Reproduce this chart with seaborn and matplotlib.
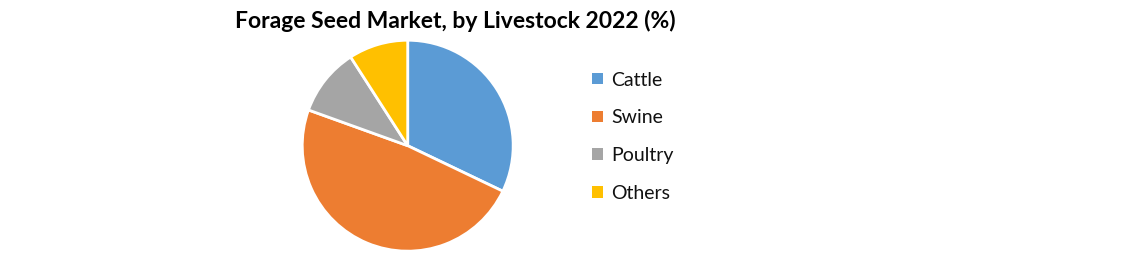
import matplotlib
matplotlib.use("Agg")
import matplotlib.pyplot as plt
import seaborn as sns
from matplotlib.patches import Patch

categories = ["Cattle", "Swine", "Poultry", "Others"]
shares = [32.1, 48.4, 10.4, 9.1]
colors = ["#5B9BD5", "#ED7D31", "#A5A5A5", "#FFC000"]
title = "Forage Seed Market, by Livestock 2022 (%)"

sns.set_theme(style="white")
plt.rcParams["font.family"] = ["Lato", "DejaVu Sans"]

W, H = 1121, 254
fig = plt.figure(figsize=(W / 100, H / 100), dpi=100)
fig.patch.set_facecolor("white")

cx, cy, r = 407.7, 145.7, 106
ax = fig.add_axes([(cx - r) / W, (H - cy - r) / H, 2 * r / W, 2 * r / H])
pal = sns.color_palette(colors)
wedges, _ = ax.pie(shares, colors=pal, startangle=90, counterclock=False,
                   radius=1, wedgeprops=dict(edgecolor="white", linewidth=2))
ax.set_xlim(-1.005, 1.005)
ax.set_ylim(-1.005, 1.005)
ax.set_aspect("equal")
ax.axis("off")

fig.text(455 / W, 1 - 21 / H, title, ha="center", va="center",
         fontsize=16.5, fontweight="bold", color="black")

handles = [Patch(facecolor=c, edgecolor="none") for c in pal]
leg = fig.legend(handles, categories, loc="upper left",
                 bbox_to_anchor=(592 / W, 1 - 71.5 / H), frameon=False,
                 fontsize=14, handlelength=0.55, handleheight=0.55,
                 handletextpad=0.45, labelspacing=1.07, borderpad=0,
                 borderaxespad=0, labelcolor="#111111")

fig.savefig("out.png", dpi=100, facecolor="white")
